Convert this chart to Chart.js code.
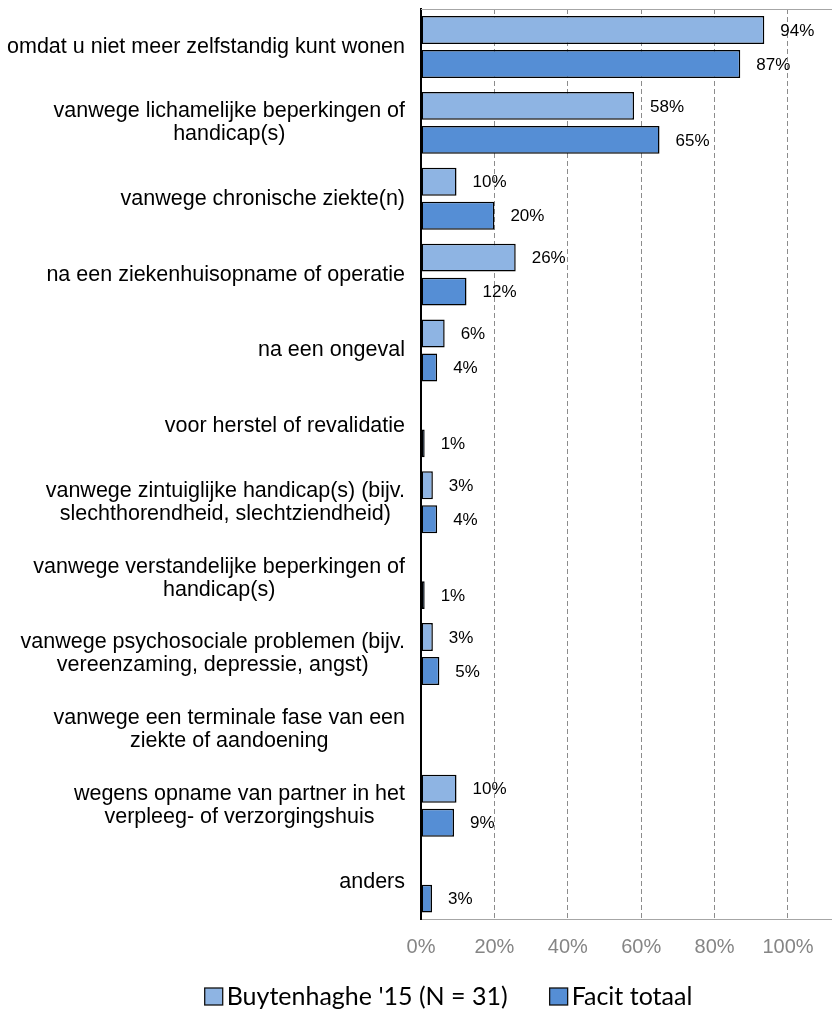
<!DOCTYPE html>
<html><head><meta charset="utf-8">
<script src="https://cdn.jsdelivr.net/npm/chart.js@4.4.0/dist/chart.umd.min.js"></script>
<style>html,body{margin:0;padding:0;background:#fff}#wrap{width:832px;height:1009px}</style>
</head><body><div id="wrap"><canvas id="c" width="832" height="1009"></canvas></div>
<script>
const categories = [
  "omdat u niet meer zelfstandig kunt wonen",
  ["vanwege lichamelijke beperkingen of", "handicap(s)"],
  "vanwege chronische ziekte(n)",
  "na een ziekenhuisopname of operatie",
  "na een ongeval",
  "voor herstel of revalidatie",
  ["vanwege zintuiglijke handicap(s) (bijv.", "slechthorendheid, slechtziendheid)"],
  ["vanwege verstandelijke beperkingen of", "handicap(s)"],
  ["vanwege psychosociale problemen (bijv.", "vereenzaming, depressie, angst)"],
  ["vanwege een terminale fase van een", "ziekte of aandoening"],
  ["wegens opname van partner in het", "verpleeg- of verzorgingshuis"],
  "anders"
];
const seriesNames = ["Buytenhaghe '15 (N = 31)", "Facit totaal"];
const buytenhaghe = [93.55, 58.06, 9.68, 25.81, 6.45, 0, 3.23, 0, 3.23, 0, 9.68, 0];
const facit = [87, 65, 20, 12.4, 4.4, 1, 4.4, 1, 5, 0, 9, 3];
const xTickValues = [0, 20, 40, 60, 80, 100];

const FONT = "'Liberation Sans', Arial, sans-serif";
const colors = ['#8EB4E3', '#558ED5'];

const dataLabelPlugin = {
  id: 'dataLabels',
  afterDatasetsDraw(chart) {
    const ctx = chart.ctx;
    ctx.save();
    ctx.font = '17px ' + FONT;
    ctx.fillStyle = '#000';
    ctx.textAlign = 'left';
    ctx.textBaseline = 'middle';
    chart.data.datasets.forEach((ds, di) => {
      const meta = chart.getDatasetMeta(di);
      meta.data.forEach((el, i) => {
        const v = ds.data[i];
        if (v > 0) ctx.fillText(Math.round(v) + '%', el.x + 16, el.y + 1);
      });
    });
    ctx.restore();
  }
};

const categoryLabelPlugin = {
  id: 'catLabels',
  afterDraw(chart) {
    const ctx = chart.ctx;
    const y = chart.scales.y;
    const right = chart.chartArea.left - 16;
    ctx.save();
    ctx.font = '21.5px ' + FONT;
    ctx.fillStyle = '#000';
    ctx.textAlign = 'center';
    ctx.textBaseline = 'middle';
    chart.data.labels.forEach((lab, i) => {
      const lines = Array.isArray(lab) ? lab : [lab];
      const maxW = Math.max(...lines.map(l => ctx.measureText(l).width));
      const cx = right - maxW / 2;
      const yc = y.getPixelForValue(i);
      const lh = 23;
      const y0 = yc - (lines.length - 1) * lh / 2;
      lines.forEach((l, k) => ctx.fillText(l, cx, y0 + k * lh));
    });
    ctx.restore();
  }
};

const frameLegendPlugin = {
  id: 'frameLegend',
  afterDraw(chart) {
    const ctx = chart.ctx;
    const a = chart.chartArea;
    ctx.save();
    ctx.strokeStyle = '#a6a6a6';
    ctx.lineWidth = 1;
    ctx.beginPath();
    ctx.moveTo(a.left, a.top + 0.5);
    ctx.lineTo(a.right, a.top + 0.5);
    ctx.stroke();
    // legend
    ctx.font = '25px Lato, Carlito, sans-serif';
    ctx.textBaseline = 'middle';
    ctx.textAlign = 'left';
    const box = 18, boxH = 17, gapText = 4, gapItem = 42;
    const widths = chart.data.datasets.map(d => ctx.measureText(d.label).width);
    let total = 0;
    widths.forEach((w, i) => { total += box + gapText + w + (i < widths.length - 1 ? gapItem : 0); });
    let x = 448.5 - total / 2;
    const yc = 996.5;
    chart.data.datasets.forEach((d, i) => {
      ctx.fillStyle = d.backgroundColor;
      ctx.fillRect(x, yc - boxH / 2, box, boxH);
      ctx.strokeStyle = '#111';
      ctx.lineWidth = 1.3;
      ctx.strokeRect(x, yc - boxH / 2, box, boxH);
      ctx.fillStyle = '#000';
      ctx.fillText(d.label, x + box + gapText, yc);
      x += box + gapText + widths[i] + gapItem;
    });
    ctx.restore();
  }
};

new Chart(document.getElementById('c'), {
  type: 'bar',
  data: {
    labels: categories,
    datasets: [
      { label: seriesNames[0], data: buytenhaghe, backgroundColor: colors[0], borderColor: '#000', borderWidth: 1.5, borderSkipped: false, categoryPercentage: 0.896, barPercentage: 0.82 },
      { label: seriesNames[1], data: facit, backgroundColor: colors[1], borderColor: '#000', borderWidth: 1.5, borderSkipped: false, categoryPercentage: 0.896, barPercentage: 0.82 }
    ]
  },
  options: {
    indexAxis: 'y',
    responsive: false,
    animation: false,
    layout: { padding: { left: 0, right: 0, top: 9, bottom: 49.4 } },
    plugins: { legend: { display: false }, tooltip: { enabled: false } },
    scales: {
      x: {
        min: 0, max: 112,
        afterBuildTicks(scale) { scale.ticks = xTickValues.map(v => ({ value: v })); },
        afterFit(scale) { scale.height = 40; },
        ticks: { callback: v => v + '%', color: '#858585', font: { family: FONT, size: 20 }, padding: 16, maxRotation: 0 },
        grid: { drawTicks: false, color: c => (c.tick && c.tick.value === 0) ? 'rgba(0,0,0,0)' : '#8c8c8c', lineWidth: 1 },
        border: { display: true, color: '#a6a6a6', width: 1, dash: [5, 3] }
      },
      y: {
        ticks: { display: false },
        afterFit(scale) { scale.width = 421; },
        grid: { display: false },
        border: { display: true, color: '#000', width: 2 }
      }
    }
  },
  plugins: [dataLabelPlugin, categoryLabelPlugin, frameLegendPlugin]
});
</script>
</body></html>
